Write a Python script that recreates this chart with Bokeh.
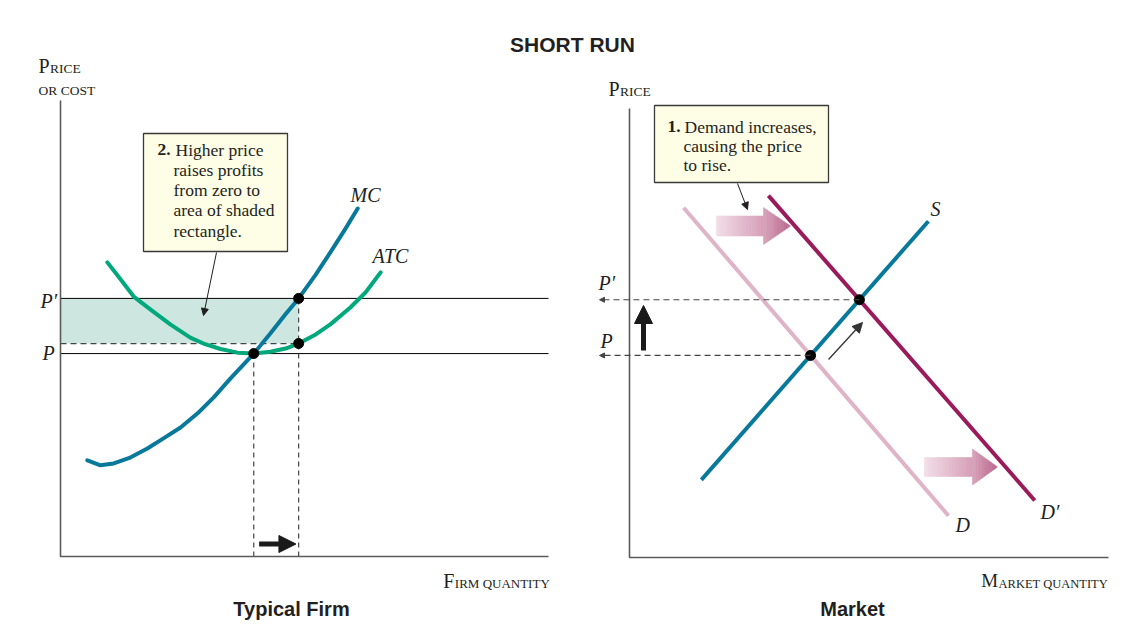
import numpy as np
from bokeh.plotting import figure
from bokeh.models import Range1d, Arrow, NormalHead
from bokeh.core.properties import value
from bokeh.embed import file_html
from bokeh.resources import INLINE

# ---------------- data (quantity / price units, axes run 0..10) ----------------
# Typical firm
firm_mc_q = [0.55, 0.82, 1.09, 1.43, 1.78, 2.11, 2.46, 2.81, 3.14, 3.48, 3.83, 3.96,
             4.30, 4.61, 4.88, 5.23, 5.53, 5.84, 6.09]
firm_mc_p = [2.11, 2.00, 2.04, 2.17, 2.37, 2.59, 2.83, 3.14, 3.49, 3.90, 4.30, 4.45,
             4.89, 5.31, 5.66, 6.18, 6.67, 7.19, 7.63]
firm_atc_q = [0.96, 1.23, 1.50, 1.84, 2.25, 2.66, 2.93, 3.28, 3.63, 3.96, 4.30, 4.61,
              4.88, 5.23, 5.53, 5.94, 6.25, 6.56]
firm_atc_p = [6.45, 6.08, 5.70, 5.42, 5.09, 4.80, 4.67, 4.55, 4.47, 4.45, 4.49, 4.56,
              4.67, 4.87, 5.09, 5.46, 5.79, 6.23]
firm_price = [4.45, 5.66]          # P, P'
firm_price_labels = ["P", "P\u2032"]
firm_quantity = [3.96, 4.88]       # output at P and at P'
firm_atc_new = 4.67                # ATC at the new output

# Market
mkt_s_q = [1.50, 6.24]
mkt_s_p = [1.73, 7.49]
mkt_d_q = [1.13, 6.66]
mkt_d_p = [7.79, 0.93]
mkt_d2_q = [2.90, 8.46]
mkt_d2_p = [8.06, 1.27]
mkt_eq_q = [3.78, 4.80]            # equilibria before / after
mkt_eq_p = [4.50, 5.74]
mkt_price_labels = ["P", "P\u2032"]

# ---------------- layout (image pixels) ----------------
W, H = 1124, 636
PAD = 0
L_X0, L_Y0, L_SX, L_SY = 60, 556, 48.8, 45.6     # left panel origin & px per unit
R_X0, R_Y0, R_SX, R_SY = 629, 557, 47.9, 44.9    # right panel
TXT_K = 0.4                                      # baseline correction (fraction of font size)


def Lx(X): return (X - L_X0) / L_SX
def Ly(Y): return (L_Y0 - Y) / L_SY
def Rx(X): return (X - R_X0) / R_SX
def Ry(Y): return (R_Y0 - Y) / R_SY


SERIF = "Liberation Serif"
SANS = "Liberation Sans"
INK = "#231f20"
AXIS = "#5a5a5a"
BLUE = "#08799b"
GREEN = "#00a87c"
PINK = "#dfb4c7"
PLUM = "#9a1b5c"
SHADE = "#cde6e0"
BOX = "#fefde6"

p = figure(width=W, height=H,
           x_range=Range1d(Lx(PAD), Lx(PAD + W)),
           y_range=Range1d(Ly(PAD + H), Ly(PAD)),
           x_axis_location=None, y_axis_location=None,
           toolbar_location=None, output_backend="svg",
           min_border=0, outline_line_color=None,
           background_fill_color="white", border_fill_color="white")
p.extra_x_ranges = {"mx": Range1d(Rx(PAD), Rx(PAD + W))}
p.extra_y_ranges = {"my": Range1d(Ry(PAD + H), Ry(PAD))}
p.xgrid.visible = False
p.ygrid.visible = False
M = dict(x_range_name="mx", y_range_name="my")


def put(x, y, s, size, font=SERIF, style="normal", align="left", panel="L", color=INK):
    kw = {} if panel == "L" else M
    p.text(x=[x], y=[y], text=[s], text_font=value(font), text_font_size=value(size),
           text_font_style=value(style), text_align=value(align),
           text_baseline=value("alphabetic"), text_color=color, **kw)


def putpx(X, Y, s, size, panel="L", **k):
    Y = Y - TXT_K * float(size.replace("px", ""))
    if panel == "L":
        put(Lx(X), Ly(Y), s, size, panel=panel, **k)
    else:
        put(Rx(X), Ry(Y), s, size, panel=panel, **k)


def smallcaps(X, Y, word, panel, big=20, small=13.5, first_w=0.556):
    putpx(X, Y, word[0], f"{big}px", panel)
    putpx(X + first_w * big + 0.5, Y, word[1:], f"{small}px", panel)


def arrow(x0, y0, x1, y1, panel="L", width=1.0, head=7, color=INK, dash="solid"):
    kw = {} if panel == "L" else M
    a = Arrow(x_start=x0, y_start=y0, x_end=x1, y_end=y1, line_width=width,
              line_color=color, line_dash=dash,
              end=NormalHead(size=head, fill_color=color, line_color=color, line_width=1),
              **kw)
    p.add_layout(a)


# ---------------- titles ----------------
putpx(572, 52, "SHORT RUN", "21px", font=SANS, style="bold", align="center")
putpx(291, 616, "Typical Firm", "20px", font=SANS, style="bold", align="center")
putpx(852, 616, "Market", "20px", font=SANS, style="bold", align="center", panel="R")

# ================= LEFT PANEL: typical firm =================
P0, P1 = firm_price
Q0, Q1 = firm_quantity
# shaded profit rectangle
p.quad(left=[0], right=[Q1], bottom=[firm_atc_new], top=[P1], fill_color=SHADE, line_color=None)
# price lines
p.segment(x0=[0, 0], y0=firm_price, x1=[10, 10], y1=firm_price, line_color="black", line_width=1)
# dashed guides
p.segment(x0=[0], y0=[firm_atc_new], x1=[Q1], y1=[firm_atc_new], line_color="#444444",
          line_width=1.2, line_dash="6 4")
p.segment(x0=firm_quantity, y0=[0, 0], x1=firm_quantity, y1=[P0, P1], line_color="#444444",
          line_width=1.2, line_dash="5 4")
# axes
p.line([0, 0, 10], [10, 0, 0], line_color=AXIS, line_width=1.6)
# curves
p.line(firm_atc_q, firm_atc_p, line_color=GREEN, line_width=4, line_cap="round", line_join="round")
p.line(firm_mc_q, firm_mc_p, line_color=BLUE, line_width=4, line_cap="round", line_join="round")
p.scatter([Q0, Q1, Q1], [P0, P1, firm_atc_new], size=10, color="black")

# labels
putpx(40, 308, firm_price_labels[1], "20px", style="italic")
putpx(42, 360, firm_price_labels[0], "20px", style="italic")
putpx(350, 202, "MC", "20px", style="italic")
putpx(372, 263, "ATC", "20px", style="italic")
smallcaps(38, 73.5, "PRICE", "L")
putpx(38, 95.5, "OR COST", "13.5px")
smallcaps(442.7, 588, "FIRM QUANTITY", "L", small=13)

# annotation box
p.quad(left=[Lx(143)], right=[Lx(287)], bottom=[Ly(251)], top=[Ly(133)],
       fill_color=BOX, line_color="#3a3a3a", line_width=1.3)
putpx(157, 156, "2.", "17.5px", style="bold")
putpx(175, 156, "Higher price", "17.5px")
for i, s in enumerate(["raises profits", "from zero to", "area of shaded", "rectangle."]):
    putpx(173, 176.25 + 20.25 * i, s, "17.5px")
arrow(Lx(216), Ly(252), Lx(203), Ly(315), width=1.0, head=7)

# output-increase arrow
arrow(Q0 + (Q1 - Q0) * 0.12, Ly(543.5), Q1 - (Q1 - Q0) * 0.06, Ly(543.5), width=5, head=17,
      color="#1a1a1a")

# ================= RIGHT PANEL: market =================
# dashed price guides with small arrowheads pointing to the axis
for q, pr in zip(mkt_eq_q, mkt_eq_p):
    arrow(q, pr, Rx(599), pr, panel="R", width=1.2, head=5, color="#444444", dash="6 4")
# axes
p.line([0, 0, 10], [10, 0, 0], line_color=AXIS, line_width=1.6, **M)
# curves
p.line(mkt_d_q, mkt_d_p, line_color=PINK, line_width=4, **M)
p.line(mkt_d2_q, mkt_d2_p, line_color=PLUM, line_width=4, **M)
p.line(mkt_s_q, mkt_s_p, line_color=BLUE, line_width=4, **M)
p.scatter(mkt_eq_q, mkt_eq_p, size=10, color="black", **M)

# labels
putpx(598, 290, mkt_price_labels[1], "20px", style="italic", panel="R")
putpx(600, 348, mkt_price_labels[0], "20px", style="italic", panel="R")
putpx(930, 216, "S", "20px", style="italic", panel="R")
putpx(955, 532, "D", "20px", style="italic", panel="R")
putpx(1040, 519, "D\u2032", "20px", style="italic", panel="R")
smallcaps(608, 96.5, "PRICE", "R")
smallcaps(980.7, 588, "MARKET QUANTITY", "R", big=19, small=12.5, first_w=0.889)

# annotation box
p.quad(left=[Rx(654)], right=[Rx(828)], bottom=[Ry(182)], top=[Ry(105)],
       fill_color=BOX, line_color="#3a3a3a", line_width=1.3, **M)
putpx(667, 133.3, "1.", "17.5px", style="bold", panel="R")
putpx(684, 133.3, "Demand increases,", "17.5px", panel="R")
putpx(683, 152.5, "causing the price", "17.5px", panel="R")
putpx(683, 171.7, "to rise.", "17.5px", panel="R")
arrow(Rx(737), Ry(183), Rx(747), Ry(209), panel="R", width=1.0, head=7)

# price-rise arrow and movement along supply
arrow(Rx(643), Ry(350), Rx(643), Ry(305), panel="R", width=5, head=18, color="#1a1a1a")
arrow(Rx(828), Ry(359), Rx(862), Ry(322), panel="R", width=1.3, head=10, color="#333333")


# gradient "shift" arrows
def grad_arrow(X0, X1, X2, Yc, sh, hh, n=16, m=8):
    c0 = np.array([242, 220, 230]); c1 = np.array([215, 160, 185]); c2 = np.array([188, 108, 144])
    xs = np.linspace(X0, X1, n + 1)
    lefts, rights, cols = [], [], []
    for i in range(n):
        c = c0 + (c1 - c0) * (i / (n - 1))
        lefts.append(Rx(xs[i])); rights.append(Rx(xs[i + 1]))
        cols.append("#%02x%02x%02x" % tuple(int(v) for v in c))
    p.quad(left=lefts, right=rights, bottom=Ry(Yc + sh), top=Ry(Yc - sh),
           fill_color=cols, line_color=cols, line_width=0.6, **M)
    hx = np.linspace(X1, X2, m + 1)
    pxs, pys, hcols = [], [], []
    for k in range(m):
        a, b = hx[k], hx[k + 1]
        ha = hh * (X2 - a) / (X2 - X1); hb = hh * (X2 - b) / (X2 - X1)
        pxs.append([Rx(a), Rx(b), Rx(b), Rx(a)])
        pys.append([Ry(Yc - ha), Ry(Yc - hb), Ry(Yc + hb), Ry(Yc + ha)])
        c = c1 + (c2 - c1) * (k / (m - 1))
        hcols.append("#%02x%02x%02x" % tuple(int(v) for v in c))
    p.patches(pxs, pys, fill_color=hcols, line_color=hcols, line_width=0.6, **M)


grad_arrow(716, 763, 790, 225.5, 10, 18.5)
grad_arrow(924, 972, 997, 466.5, 9.5, 18)

open("out.html", "w").write(file_html(p, INLINE))
